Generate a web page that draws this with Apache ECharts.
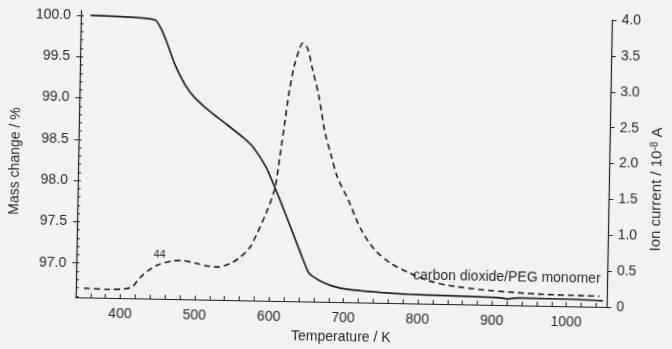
<!DOCTYPE html>
<html><head><meta charset="utf-8">
<script src="https://cdn.jsdelivr.net/npm/echarts@6/dist/echarts.min.js"></script>
<style>html,body{margin:0;padding:0;background:#f2f2f1;overflow:hidden}#c{width:672px;height:349px;transform:rotate(1.05deg);transform-origin:336px 174.5px}</style>
</head><body><div id="c"></div>
<script>
// Mass change (TG) curve, left axis
const temperatureMass = [353, 400, 440, 448, 456, 468, 482, 495, 518, 539, 562, 575, 593, 605, 616, 630, 644, 653, 666, 684, 706, 750, 785, 816, 908, 921, 934, 1013, 1049];
const massChange      = [100.0, 99.99, 99.96, 99.86, 99.70, 99.42, 99.18, 99.03, 98.85, 98.71, 98.55, 98.44, 98.2, 97.96, 97.73, 97.42, 97.11, 96.93, 96.85, 96.78, 96.74, 96.71, 96.695, 96.69, 96.675, 96.66, 96.675, 96.67, 96.66];
// Ion current (m/z 44) curve, right axis
const temperatureIon = [351, 381, 414, 425, 438, 451, 468, 482, 499, 517, 530, 547, 560, 573, 582, 594, 605, 611, 617, 622, 628, 635, 639, 646, 652, 662, 671, 681, 689, 704, 722, 740, 762, 789, 815, 842, 886, 930, 973, 1044];
const ionCurrent     = [0.13, 0.12, 0.15, 0.28, 0.40, 0.48, 0.53, 0.54, 0.51, 0.47, 0.46, 0.51, 0.60, 0.74, 0.93, 1.22, 1.56, 2.0, 2.5, 2.91, 3.27, 3.52, 3.60, 3.52, 3.27, 2.87, 2.37, 2.01, 1.74, 1.43, 1.02, 0.75, 0.56, 0.42, 0.32, 0.26, 0.21, 0.18, 0.16, 0.15];
// Tick labels
const xTickLabels = [400, 500, 600, 700, 800, 900, 1000];
const massTickLabels = [97.0, 97.5, 98.0, 98.5, 99.0, 99.5, 100.0];
const ionTickLabels = [0, 0.5, 1.0, 1.5, 2.0, 2.5, 3.0, 3.5, 4.0];
const annotations = { ion: 'carbon dioxide/PEG monomer', mz: '44' };

const minorX = []; for (let t = 360; t <= 1040; t += 20) minorX.push(t);
const minorMass = []; for (let i = 966; i <= 1000; i++) minorMass.push(i / 10);

const ink = '#1e1e1e', txt = '#2a2a2a';
const font = '"Liberation Sans", Arial, sans-serif';

const chart = echarts.init(document.getElementById('c'), null, { renderer: 'canvas' });
chart.setOption({
  backgroundColor: '#f2f2f1',
  animation: false,
  textStyle: { fontFamily: font },
  grid: { left: 71, right: 58, top: 15, bottom: 41 },
  xAxis: [{
    type: 'value', min: 340, max: 1055,
    name: 'Temperature / K', nameLocation: 'middle', nameGap: 25,
    nameTextStyle: { fontSize: 14, color: txt, fontFamily: font },
    axisLine: { lineStyle: { color: ink, width: 1.2 } },
    axisTick: { inside: true, length: 4, customValues: minorX, lineStyle: { color: ink } },
    axisLabel: { customValues: xTickLabels, fontSize: 14, color: txt, margin: 9, fontFamily: font, formatter: v => String(v) },
    splitLine: { show: false }
  }],
  yAxis: [{
    type: 'value', min: 96.584, max: 100.06, position: 'left',
    name: 'Mass change / %', nameLocation: 'middle', nameRotate: 90, nameGap: 44,
    nameTextStyle: { fontSize: 14, color: txt, fontFamily: font, padding: [0, 17, 0, 0] },
    axisLine: { show: true, lineStyle: { color: ink, width: 1.2 } },
    axisTick: { show: true, inside: false, length: 4, customValues: massTickLabels, lineStyle: { color: ink } },
    axisLabel: { customValues: massTickLabels, fontSize: 14, color: txt, margin: 10, fontFamily: font, formatter: v => v.toFixed(1) },
    splitLine: { show: false }
  }, {
    type: 'value', min: 96.584, max: 100.06, position: 'left',
    axisLine: { show: false },
    axisTick: { show: true, inside: true, length: 3, customValues: minorMass, lineStyle: { color: ink } },
    axisLabel: { show: false }, splitLine: { show: false }
  }, {
    type: 'value', min: 0, max: 4, interval: 0.5, position: 'right',
    name: 'Ion current / 10{sup|-8} A', nameLocation: 'middle', nameRotate: 90, nameGap: 38,
    nameTextStyle: { fontSize: 15, color: txt, fontFamily: font, padding: [0, 50, 0, 0],
      rich: { sup: { fontSize: 10, color: txt, fontFamily: font, verticalAlign: 'top', lineHeight: 9 } } },
    axisLine: { show: true, lineStyle: { color: ink, width: 1.2 } },
    axisTick: { show: true, inside: false, length: 4, lineStyle: { color: ink } },
    axisLabel: { fontSize: 14, color: txt, margin: 9, fontFamily: font, formatter: v => v === 0 ? '0' : v.toFixed(1) },
    splitLine: { show: false }
  }],
  series: [{
    type: 'line', name: 'Mass change', xAxisIndex: 0, yAxisIndex: 0,
    data: temperatureMass.map((t, i) => [t, massChange[i]]),
    showSymbol: false, smooth: 0.2,
    lineStyle: { color: ink, width: 1.7 }
  }, {
    type: 'line', name: annotations.ion, xAxisIndex: 0, yAxisIndex: 2,
    data: temperatureIon.map((t, i) => [t, ionCurrent[i]]),
    showSymbol: false, smooth: 0.3,
    lineStyle: { color: ink, width: 1.6, type: [6, 4] }
  }],
  graphic: [{
    type: 'text', left: 155, top: 252,
    style: { text: annotations.mz, fontSize: 11, fill: txt, fontFamily: font }
  }, {
    type: 'text', left: 415, top: 267,
    style: { text: annotations.ion, fontSize: 14, fill: txt, fontFamily: font }
  }]
});
</script></body></html>
